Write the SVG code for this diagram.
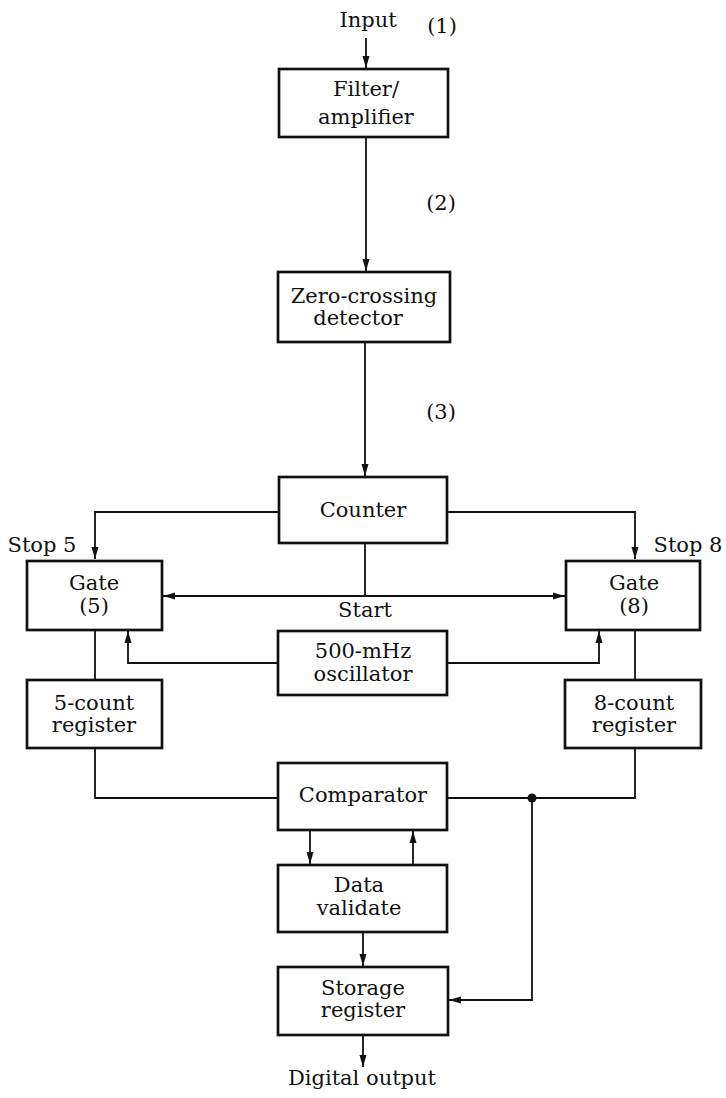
<svg xmlns="http://www.w3.org/2000/svg" width="726" height="1098" viewBox="0 0 726 1098">
<style>
.box{fill:#fff;stroke:#111;stroke-width:2.7}
.ln{fill:none;stroke:#111;stroke-width:1.8}
text{font-family:"DejaVu Serif","Liberation Serif",serif;font-size:21px;fill:#111;text-anchor:middle}
</style>
<defs>
<marker id="ah" viewBox="0 0 12 10" refX="12" refY="5" markerWidth="12" markerHeight="10" markerUnits="userSpaceOnUse" orient="auto-start-reverse">
<path d="M0,1.5 L12,5 L0,8.5 Z" fill="#111"/>
</marker>
</defs>
<rect width="726" height="1098" fill="#fff"/>
<g id="connectors">
<line class="ln" x1="366" y1="38" x2="366" y2="68" marker-end="url(#ah)"/>
<line class="ln" x1="366" y1="137" x2="366" y2="271" marker-end="url(#ah)"/>
<line class="ln" x1="365" y1="342" x2="365" y2="476" marker-end="url(#ah)"/>
<polyline class="ln" points="279,512 95,512 95,559" marker-end="url(#ah)"/>
<polyline class="ln" points="447,512 635,512 635,559" marker-end="url(#ah)"/>
<line class="ln" x1="365" y1="543" x2="365" y2="596"/>
<line class="ln" x1="163" y1="596" x2="565" y2="596" marker-start="url(#ah)" marker-end="url(#ah)"/>
<polyline class="ln" points="278,663 128,663 128,631" marker-end="url(#ah)"/>
<polyline class="ln" points="447,663 599,663 599,631" marker-end="url(#ah)"/>
<line class="ln" x1="95" y1="630" x2="95" y2="679"/>
<line class="ln" x1="635" y1="630" x2="635" y2="679"/>
<polyline class="ln" points="95,748 95,798 278,798"/>
<polyline class="ln" points="447,798 635,798 635,748"/>
<circle cx="532" cy="798" r="4.5" fill="#111"/>
<polyline class="ln" points="532,798 532,1000 449,1000" marker-end="url(#ah)"/>
<line class="ln" x1="310" y1="830" x2="310" y2="864" marker-end="url(#ah)"/>
<line class="ln" x1="413" y1="865" x2="413" y2="831" marker-end="url(#ah)"/>
<line class="ln" x1="363" y1="932" x2="363" y2="966" marker-end="url(#ah)"/>
<line class="ln" x1="363" y1="1035" x2="363" y2="1067" marker-end="url(#ah)"/>
</g>
<g id="labels">
<text x="368" y="27">Input</text>
<text x="442" y="33">(1)</text>
<text x="441" y="210">(2)</text>
<text x="441" y="419">(3)</text>
<text x="42" y="552">Stop 5</text>
<text x="688" y="552">Stop 8</text>
<text x="365" y="617">Start</text>
<text x="362" y="1085">Digital output</text>
</g>
<g id="filter">
<rect class="box" x="279" y="69" width="169" height="68"/>
<text x="366" y="96">Filter/</text>
<text x="366" y="124">amplifier</text>
</g>
<g id="zero">
<rect class="box" x="278" y="272" width="172" height="70"/>
<text x="364" y="303">Zero-crossing</text>
<text x="358" y="325">detector</text>
</g>
<g id="counter">
<rect class="box" x="279" y="477" width="168" height="66"/>
<text x="363" y="517">Counter</text>
</g>
<g id="gate5">
<rect class="box" x="27" y="561" width="135" height="69"/>
<text x="94" y="590">Gate</text>
<text x="94" y="613">(5)</text>
</g>
<g id="gate8">
<rect class="box" x="566" y="561" width="134" height="69"/>
<text x="634" y="590">Gate</text>
<text x="634" y="613">(8)</text>
</g>
<g id="osc">
<rect class="box" x="278" y="631" width="169" height="64"/>
<text x="363" y="658">500-mHz</text>
<text x="363" y="681">oscillator</text>
</g>
<g id="reg5">
<rect class="box" x="27" y="680" width="135" height="68"/>
<text x="94" y="710">5-count</text>
<text x="94" y="732">register</text>
</g>
<g id="reg8">
<rect class="box" x="565" y="680" width="136" height="68"/>
<text x="634" y="710">8-count</text>
<text x="634" y="732">register</text>
</g>
<g id="comparator">
<rect class="box" x="278" y="763" width="169" height="67"/>
<text x="363" y="802">Comparator</text>
</g>
<g id="validate">
<rect class="box" x="278" y="865" width="169" height="67"/>
<text x="359" y="892">Data</text>
<text x="359" y="915">validate</text>
</g>
<g id="storage">
<rect class="box" x="278" y="967" width="170" height="68"/>
<text x="363" y="995">Storage</text>
<text x="363" y="1017">register</text>
</g>
</svg>
